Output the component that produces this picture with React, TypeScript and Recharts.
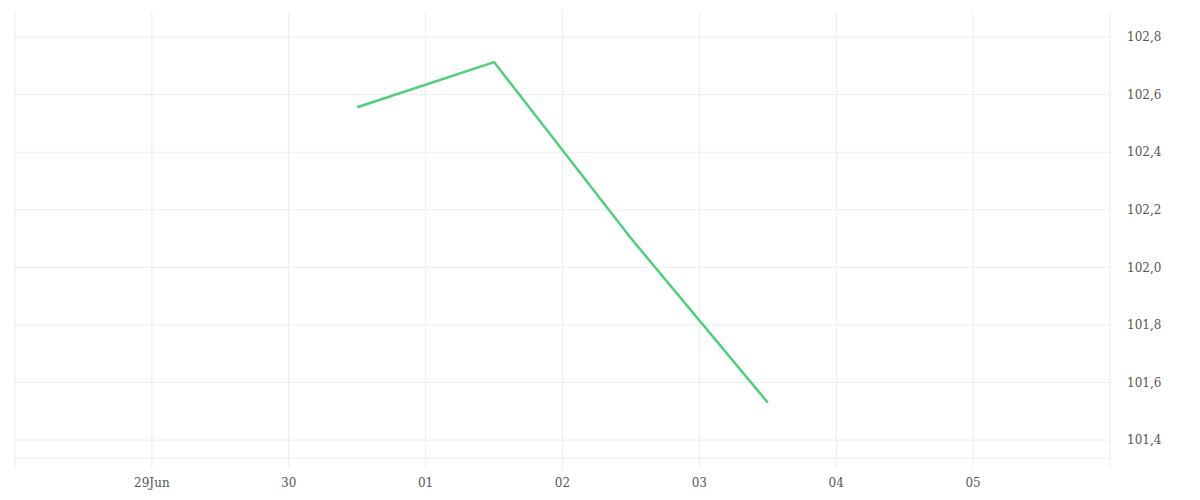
import { LineChart, Line, XAxis, YAxis, CartesianGrid, ReferenceLine } from 'recharts'

// day offsets from 28 Jun
const dayTicks = [0, 1, 2, 3, 4, 5, 6, 7, 8]
const dayLabels = ['', '29Jun', '30', '01', '02', '03', '04', '05', '']
const pointDays = [2.5, 3.5, 4.5, 5.5]
const pointValues = [102.556, 102.713, 102.101, 101.53]
const priceTicks = [101.4, 101.6, 101.8, 102.0, 102.2, 102.4, 102.6, 102.8]
const gridLevels = [101.337, ...priceTicks]

const data = pointDays.map((d, i) => ({ day: d, price: pointValues[i] }))

const tickStyle = { fontSize: 12, fill: '#555', fontFamily: 'DejaVu Serif' }

export default function App() {
  return (
    <div style={{ margin: -8 }}>
      <LineChart width={1200} height={500} data={data} margin={{ top: 12, right: 0, left: 15, bottom: 0 }}>
        <CartesianGrid stroke="#ececec" horizontal={false} />
        {gridLevels.map((v) => (
          <ReferenceLine key={v} y={v} stroke="#ececec" />
        ))}
        <XAxis
          dataKey="day"
          type="number"
          domain={[0, 8]}
          ticks={dayTicks}
          tickFormatter={(v: number) => dayLabels[v] ?? ''}
          axisLine={false}
          tickLine={false}
          tickSize={0}
          tickMargin={10}
          height={32}
          tick={tickStyle}
        />
        <YAxis
          orientation="right"
          type="number"
          domain={[101.303, 102.887]}
          ticks={priceTicks}
          tickFormatter={(v: number) => v.toFixed(1).replace('.', ',')}
          axisLine={false}
          tickLine={false}
          tickSize={0}
          tickMargin={17}
          width={90}
          tick={tickStyle}
        />
        <Line
          type="linear"
          dataKey="price"
          stroke="#4cd07d"
          strokeWidth={2.5}
          dot={false}
          isAnimationActive={false}
        />
      </LineChart>
    </div>
  )
}
